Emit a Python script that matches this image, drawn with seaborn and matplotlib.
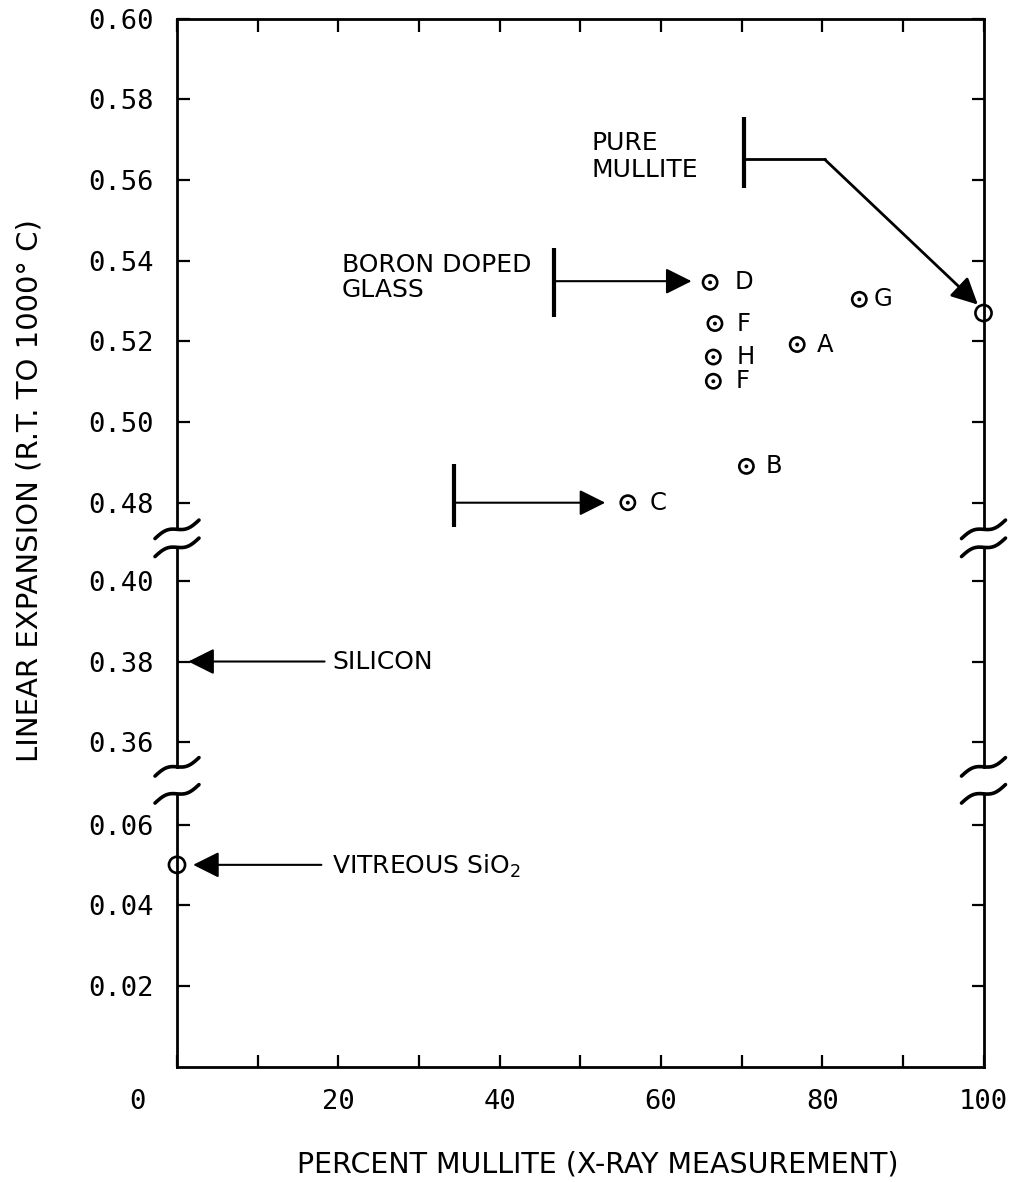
import numpy as np
import pandas as pd
import matplotlib
matplotlib.use("Agg")
import matplotlib.pyplot as plt
import seaborn as sns
from matplotlib.transforms import ScaledTranslation

# ---------------- data ----------------
sample_labels = ["D", "F", "H", "F", "A", "G", "B", "C"]
sample_mullite = [66.1, 66.7, 66.5, 66.5, 76.9, 84.6, 70.6, 55.9]
sample_expansion = [0.5346, 0.5244, 0.5161, 0.5101, 0.5192, 0.5304, 0.4890, 0.4800]

pure_mullite_x = [100.0]
pure_mullite_y = [0.527]
vitreous_x = [0.0]
vitreous_y = [0.050]
silicon_y = 0.38

x_ticks = [0, 10, 20, 30, 40, 50, 60, 70, 80, 90, 100]
x_tick_labels = ["0", "", "20", "", "40", "", "60", "", "80", "", "100"]

segment_limits = [(0.4734, 0.60), (0.3539, 0.4083), (0.0, 0.0676)]
segment_ticks = [[0.48, 0.50, 0.52, 0.54, 0.56, 0.58, 0.60],
                 [0.36, 0.38, 0.40],
                 [0.02, 0.04, 0.06]]

# annotation geometry (data units)
boron_bar_x = 46.8
boron_bar_y = [0.5261, 0.5432]
boron_arrow_y = 0.5349
boron_arrow_tip_x = 63.8
boron_text_xy = (20.4, 0.5418)

c_bar_x = 34.3
c_bar_y = [0.4739, 0.4895]
c_arrow_y = 0.48
c_arrow_tip_x = 53.1

mullite_bar_x = 70.3
mullite_bar_y = [0.5581, 0.5755]
mullite_line_y = 0.5651
mullite_bend_x = 80.3
mullite_tip = (99.3, 0.5291)
mullite_text_xy = (51.4, 0.5720)

silicon_tail_x = 18.3
silicon_tip_x = 1.4
silicon_text_x = 19.3

vitreous_tail_x = 17.9
vitreous_tip_x = 2.0
vitreous_text_x = 19.2

# label offsets (pixels) for sample letters
label_offsets_px = [25, 22, 23, 22, 20, 14, 19, 22]

# ---------------- style ----------------
sns.set_theme(style="white")
plt.rcParams["font.family"] = ["DejaVu Sans"]
plt.rcParams["axes.linewidth"] = 2.0
plt.rcParams["axes.edgecolor"] = "black"
plt.rcParams["text.color"] = "black"
plt.rcParams["axes.labelcolor"] = "black"
plt.rcParams["xtick.color"] = "black"
plt.rcParams["ytick.color"] = "black"

W, H, DPI = 1009, 1182, 100
fig = plt.figure(figsize=(W / DPI, H / DPI), dpi=DPI)

px_per_unit = 4035.0
left_px, right_px = 177.0, 983.5
top_px = 18.5
gaps_px = [18.0, 27.0]

axes = []
cur = top_px
for i, (lo, hi) in enumerate(segment_limits):
    h = (hi - lo) * px_per_unit
    ax = fig.add_axes([left_px / W, 1 - (cur + h) / H, (right_px - left_px) / W, h / H])
    axes.append(ax)
    cur += h
    if i < len(gaps_px):
        cur += gaps_px[i]
ax_top, ax_mid, ax_bot = axes

mono = "DejaVu Sans Mono"
for i, ax in enumerate(axes):
    ax.set_xlim(0, 100)
    ax.set_ylim(*segment_limits[i])
    ax.set_yticks(segment_ticks[i], labels=[f"{t:.2f}" for t in segment_ticks[i]],
                  fontfamily=mono, fontsize=19.5, color="black")
    ax.tick_params(axis="y", direction="in", length=9, width=1.6, left=True, right=True,
                   labelleft=True, labelright=False, pad=17, colors="black")
    ax.spines["top"].set_visible(i == 0)
    ax.spines["bottom"].set_visible(i == 2)
    ax.patch.set_alpha(0)

# x ticks
ax_top.set_xticks(x_ticks)
ax_top.tick_params(axis="x", direction="in", length=9, width=1.6, top=True, bottom=False,
                   labeltop=False, labelbottom=False)
ax_mid.set_xticks([])
ax_bot.set_xticks(x_ticks, labels=x_tick_labels, fontfamily=mono, fontsize=19.5, color="black")
ax_bot.tick_params(axis="x", direction="in", length=9, width=1.6, top=False, bottom=True,
                   labelbottom=True, pad=16, colors="black")
zero_lab = ax_bot.get_xticklabels()[0]
zero_lab.set_transform(zero_lab.get_transform() + ScaledTranslation(-40 / DPI, 0, fig.dpi_scale_trans))

# ---------------- data points ----------------
df = pd.DataFrame({"mullite": sample_mullite, "expansion": sample_expansion, "label": sample_labels})
sns.scatterplot(data=df, x="mullite", y="expansion", ax=ax_top, marker="o", s=105,
                facecolors="none", edgecolor="black", linewidth=1.9, legend=False, zorder=5)
sns.scatterplot(data=df, x="mullite", y="expansion", ax=ax_top, marker="o", s=8,
                color="black", edgecolor="none", legend=False, zorder=6)
for (x, y, lab, off) in zip(sample_mullite, sample_expansion, sample_labels, label_offsets_px):
    ax_top.annotate(lab, (x, y), xytext=(off * 0.72, 0), textcoords="offset points",
                    ha="left", va="center", fontsize=17.5, color="black")

sns.scatterplot(x=pure_mullite_x, y=pure_mullite_y, ax=ax_top, marker="o", s=135,
                facecolors="none", edgecolor="black", linewidth=1.9, legend=False,
                zorder=6, clip_on=False)
sns.scatterplot(x=vitreous_x, y=vitreous_y, ax=ax_bot, marker="o", s=135,
                facecolors="none", edgecolor="black", linewidth=1.9, legend=False,
                zorder=6, clip_on=False)
for ax in axes:
    ax.set_xlabel("")
    ax.set_ylabel("")

arrow_kw = dict(arrowstyle="-|>,head_length=0.8,head_width=0.4", mutation_scale=20,
                lw=1.5, color="black", shrinkA=0, shrinkB=0)
bar_kw = dict(color="black", lw=3, solid_capstyle="butt")
txt_kw = dict(fontsize=18, color="black")

# boron doped glass
ax_top.plot([boron_bar_x, boron_bar_x], boron_bar_y, **bar_kw)
ax_top.annotate("", xy=(boron_arrow_tip_x, boron_arrow_y), xytext=(boron_bar_x, boron_arrow_y),
                arrowprops=arrow_kw)
ax_top.text(*boron_text_xy, "BORON DOPED\nGLASS", ha="left", va="top", linespacing=1.05, **txt_kw)

# C arrow
ax_top.plot([c_bar_x, c_bar_x], c_bar_y, **bar_kw)
ax_top.annotate("", xy=(c_arrow_tip_x, c_arrow_y), xytext=(c_bar_x, c_arrow_y),
                arrowprops=arrow_kw)

# pure mullite
ax_top.plot([mullite_bar_x, mullite_bar_x], mullite_bar_y, **bar_kw)
ax_top.plot([mullite_bar_x, mullite_bend_x], [mullite_line_y, mullite_line_y], color="black", lw=2)
ax_top.annotate("", xy=mullite_tip, xytext=(mullite_bend_x, mullite_line_y),
                arrowprops=dict(arrow_kw, lw=2))
ax_top.text(*mullite_text_xy, "PURE\nMULLITE", ha="left", va="top", linespacing=1.15, **txt_kw)

# silicon
ax_mid.annotate("", xy=(silicon_tip_x, silicon_y), xytext=(silicon_tail_x, silicon_y),
                arrowprops=arrow_kw)
ax_mid.text(silicon_text_x, silicon_y, "SILICON", ha="left", va="center", **txt_kw)

# vitreous SiO2
ax_bot.annotate("", xy=(vitreous_tip_x, vitreous_y[0]), xytext=(vitreous_tail_x, vitreous_y[0]),
                arrowprops=arrow_kw)
ax_bot.annotate("VITREOUS SiO$_2$", (vitreous_text_x, vitreous_y[0]), xytext=(0, -6.5),
                textcoords="offset points", ha="left", va="baseline", **txt_kw)

# ---------------- axis break marks ----------------
wx = np.linspace(-0.22, 0.22, 60)
wy = 0.42 * wx - 0.035 * np.sin(np.pi * wx / 0.22)


def draw_break(ax, xa, ya):
    tr = fig.dpi_scale_trans + ScaledTranslation(xa, ya, ax.transAxes)
    ax.plot(wx, wy, transform=tr, color="black", lw=2.6, clip_on=False,
            solid_capstyle="round", zorder=10)


for ax in (ax_top, ax_mid):
    draw_break(ax, 0, 0)
    draw_break(ax, 1, 0)
for ax in (ax_mid, ax_bot):
    draw_break(ax, 0, 1)
    draw_break(ax, 1, 1)

# ---------------- axis titles ----------------
fig.text(30 / W, 1 - 491 / H, "LINEAR EXPANSION (R.T. TO 1000° C)", rotation=90,
         ha="center", va="center", fontsize=21, color="black")
fig.text(598 / W, 1 - 1165 / H, "PERCENT MULLITE (X-RAY MEASUREMENT)",
         ha="center", va="center", fontsize=20.5, color="black")

fig.savefig("out.png", dpi=DPI, facecolor="white")
